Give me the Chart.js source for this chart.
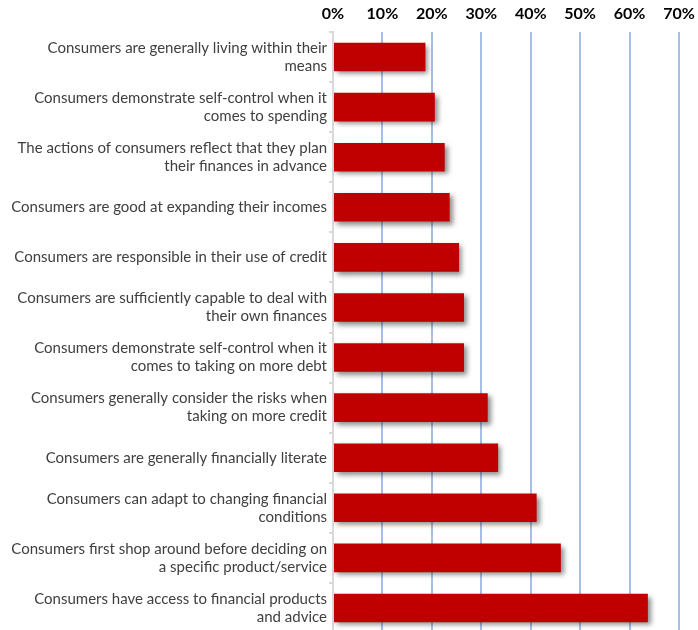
<!DOCTYPE html>
<html>
<head>
<meta charset="utf-8">
<script src="https://cdn.jsdelivr.net/npm/chart.js@4"></script>
<style>
  html, body { margin: 0; padding: 0; background: #fff; overflow: hidden; }
  #wrap { width: 698px; height: 653px; position: relative; }
</style>
</head>
<body>
<div id="wrap"><canvas id="chart"></canvas></div>
<script>
// Statements (top to bottom)
const statements = [
    ["Consumers are generally living within their", "means"],
    ["Consumers demonstrate self-control when it", "comes to spending"],
    ["The actions of consumers reflect that they plan", "their finances in advance"],
    "Consumers are good at expanding their incomes",
    "Consumers are responsible in their use of credit",
    ["Consumers are sufficiently capable to deal with", "their own finances"],
    ["Consumers demonstrate self-control when it", "comes to taking on more debt"],
    ["Consumers generally consider the risks when", "taking on more credit"],
    "Consumers are generally financially literate",
    ["Consumers can adapt to changing financial", "conditions"],
    ["Consumers first shop around before deciding on", "a specific product/service"],
    ["Consumers have access to financial products", "and advice"]
];

// Share of respondents agreeing (%)
const agreeShare = [18.7, 20.6, 22.6, 23.6, 25.5, 26.5, 26.5, 31.3, 33.4, 41.2, 46.1, 63.7];

// Axis ticks (%)
const tickValues = [0, 10, 20, 30, 40, 50, 60, 70];

// drop shadow under the bars
const barShadow = {
    id: 'barShadow',
    beforeDatasetDraw(chart) {
        const c = chart.ctx;
        c.save();
        c.shadowColor = 'rgba(0,0,0,0.45)';
        c.shadowBlur = 5;
        c.shadowOffsetX = 3;
        c.shadowOffsetY = 3;
    },
    afterDatasetDraw(chart) {
        chart.ctx.restore();
    }
};

const ctx = document.getElementById("chart").getContext("2d");
new Chart(ctx, {
    type: 'bar',
    data: {
        labels: statements,
        datasets: [{
            data: agreeShare,
            backgroundColor: '#C00000',
            borderWidth: 0,
            barPercentage: 0.57,
            categoryPercentage: 1.0
        }]
    },
    plugins: [barShadow],
    options: {
        indexAxis: 'y',
        responsive: true,
        maintainAspectRatio: false,
        animation: false,
        layout: { padding: { top: 0, right: 19, bottom: 0, left: 0 } },
        plugins: {
            legend: { display: false },
            tooltip: { enabled: false }
        },
        scales: {
            x: {
                position: 'top',
                min: 0,
                max: 70,
                afterBuildTicks: scale => {
                    scale.ticks = tickValues.map(v => ({ value: v }));
                },
                afterFit: scale => {
                    scale.height = 32;
                    scale.paddingLeft = 0;
                    scale.paddingRight = 0;
                },
                border: { display: false },
                grid: {
                    color: ctx => ctx.tick && ctx.tick.value === 0 ? 'rgba(0,0,0,0)' : '#a8bee6',
                    lineWidth: 2,
                    drawTicks: false
                },
                ticks: {
                    callback: v => v + '%',
                    color: '#000',
                    padding: 9,
                    font: { family: 'Lato', size: 16, weight: 'bold' }
                }
            },
            y: {
                afterFit: scale => { scale.width = 333; },
                border: { display: true, color: '#d9d9d9', width: 2 },
                grid: {
                    offset: true,
                    drawOnChartArea: false,
                    color: '#d9d9d9',
                    tickLength: 4,
                    lineWidth: 2
                },
                ticks: {
                    color: '#404040',
                    padding: 2,
                    font: { family: 'Lato', size: 15, lineHeight: 1.2 }
                }
            }
        }
    }
});
</script>
</body>
</html>
